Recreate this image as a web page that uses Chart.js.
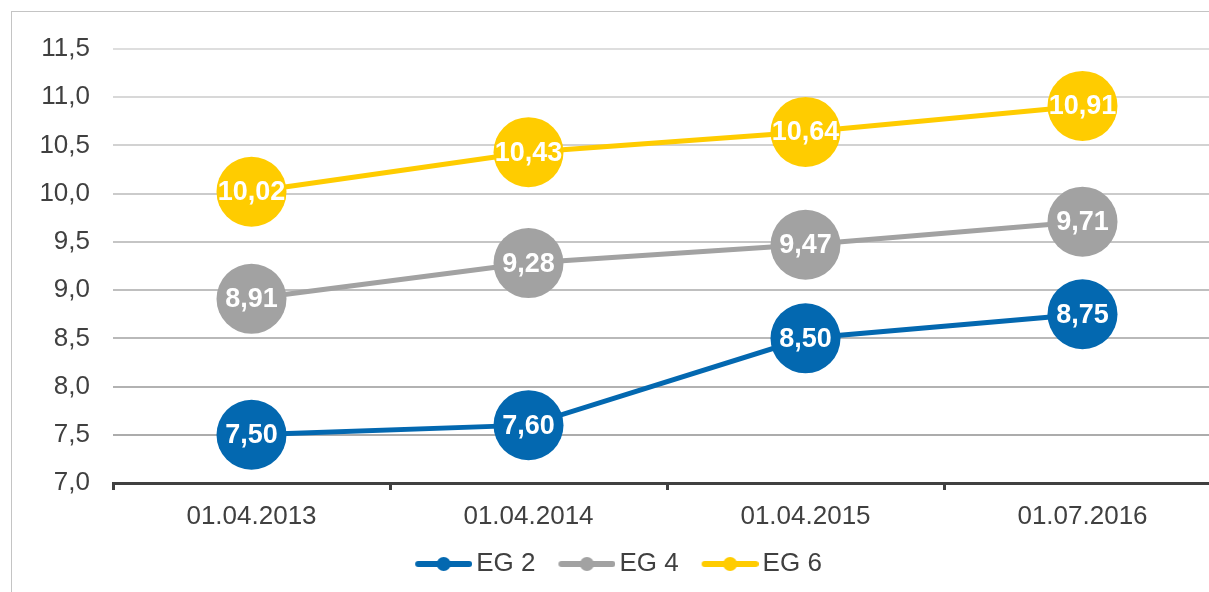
<!DOCTYPE html>
<html lang="de">
<head>
    <meta charset="UTF-8">
    <title>EG Entwicklung</title>
    <script src="https://cdn.jsdelivr.net/npm/chart.js"></script>
    <style>
        body {
            margin: 0;
            background: #fff;
            overflow: hidden;
            font-family: 'Liberation Sans', Arial, sans-serif;
        }
        #frame {
            position: absolute;
            left: 11px;
            top: 11px;
            width: 1260px;
            height: 640px;
            border: 1px solid #c4c4c4;
            pointer-events: none;
        }
        #wrap {
            position: absolute;
            left: 0;
            top: 0;
            width: 1240px;
            height: 600px;
        }
    </style>
</head>
<body>
    <div id="wrap"><canvas id="chart"></canvas></div>
    <div id="frame"></div>

    <script>
        // data
        const dates = ['01.04.2013', '01.04.2014', '01.04.2015', '01.07.2016'];
        const eg2 = [7.50, 7.60, 8.50, 8.75];
        const eg4 = [8.91, 9.28, 9.47, 9.71];
        const eg6 = [10.02, 10.43, 10.64, 10.91];
        const seriesNames = ['EG 2', 'EG 4', 'EG 6'];
        const seriesColors = ['#0368b0', '#a2a2a2', '#ffcc00'];

        const fmt = (v, d) => v.toFixed(d).replace('.', ',');

        // legend marker: line with a dot in the middle,
        // drawn in the right part of the image so the gaps come out right
        function makeMarker(color) {
            const c = document.createElement('canvas');
            c.width = 73;
            c.height = 16;
            const g = c.getContext('2d');
            const off = 16;
            g.strokeStyle = color;
            g.lineWidth = 6;
            g.lineCap = 'round';
            g.beginPath();
            g.moveTo(off + 3, 8);
            g.lineTo(off + 54, 8);
            g.stroke();
            g.fillStyle = color;
            g.beginPath();
            g.arc(off + 28.5, 8, 7, 0, Math.PI * 2);
            g.fill();
            return c;
        }
        const markers = seriesColors.map(makeMarker);

        // white value labels inside the points
        const valueLabels = {
            id: 'valueLabels',
            afterDatasetsDraw(chart) {
                const ctx = chart.ctx;
                ctx.save();
                ctx.fillStyle = '#fff';
                ctx.font = 'bold 27px "Liberation Sans", Arial, sans-serif';
                ctx.textAlign = 'center';
                ctx.textBaseline = 'middle';
                chart.data.datasets.forEach((ds, i) => {
                    chart.getDatasetMeta(i).data.forEach((pt, j) => {
                        ctx.fillText(fmt(ds.data[j], 2), pt.x, pt.y + 1);
                    });
                });
                ctx.restore();
            }
        };

        const series = [eg2, eg4, eg6];
        const datasets = series.map((vals, i) => ({
            label: seriesNames[i],
            data: vals,
            borderColor: seriesColors[i],
            backgroundColor: seriesColors[i],
            pointBackgroundColor: seriesColors[i],
            borderWidth: 5,
            pointRadius: 35,
            pointHoverRadius: 35,
            pointBorderWidth: 0,
            tension: 0
        }));

        Chart.defaults.font.family = '"Liberation Sans", Arial, sans-serif';
        Chart.defaults.color = '#404040';

        new Chart(document.getElementById('chart'), {
            type: 'line',
            data: { labels: dates, datasets: datasets },
            plugins: [valueLabels],
            options: {
                responsive: true,
                maintainAspectRatio: false,
                animation: false,
                layout: {
                    autoPadding: false,
                    padding: { top: 49, right: 19, bottom: 13, left: 9 }
                },
                scales: {
                    x: {
                        offset: true,
                        grid: {
                            offset: true,
                            drawOnChartArea: false,
                            color: '#404040',
                            lineWidth: 3,
                            tickLength: 7
                        },
                        border: { color: '#404040', width: 3 },
                        ticks: { font: { size: 26 }, padding: 11, maxRotation: 0 },
                        afterFit(scale) { scale.height = 52; }
                    },
                    y: {
                        min: 7,
                        max: 11.5,
                        ticks: {
                            stepSize: 0.5,
                            font: { size: 26 },
                            padding: 23,
                            callback: v => fmt(v, 1)
                        },
                        grid: {
                            drawTicks: false,
                            lineWidth: 2,
                            color: c => {
                                const g = Math.round(166 + 56 * c.index / 9);
                                return 'rgb(' + g + ',' + g + ',' + g + ')';
                            }
                        },
                        border: { display: false },
                        afterFit(scale) { scale.width = 104; }
                    }
                },
                plugins: {
                    tooltip: { enabled: false },
                    legend: {
                        position: 'bottom',
                        labels: {
                            font: { size: 26 },
                            color: '#404040',
                            usePointStyle: true,
                            pointStyleWidth: 55,
                            padding: 16,
                            generateLabels(chart) {
                                const items = Chart.defaults.plugins.legend.labels.generateLabels(chart);
                                items.forEach((it, i) => { it.pointStyle = markers[i]; });
                                return items;
                            }
                        }
                    }
                }
            }
        });
    </script>
</body>
</html>
